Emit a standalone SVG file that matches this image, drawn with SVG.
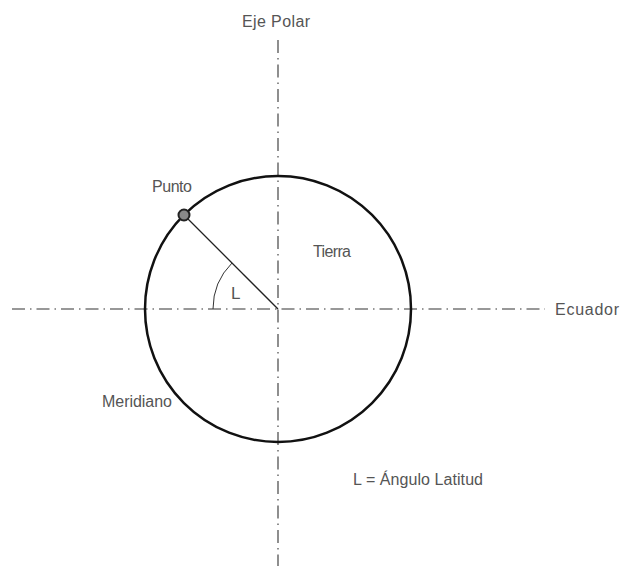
<svg xmlns="http://www.w3.org/2000/svg" width="620" height="573" viewBox="0 0 620 573">
<style>
.axis{stroke:#333;stroke-width:1.1;stroke-dasharray:13 5 1.5 5;fill:none}
.lbl{font-family:"Liberation Sans","Open Sans",sans-serif;font-size:16px;fill:#555}
</style>
<rect width="620" height="573" fill="#fff"/>
<g id="connectors">
<line class="axis" x1="12" y1="309" x2="545" y2="309"/>
<line class="axis" x1="278" y1="40" x2="278" y2="566"/>
<line x1="278" y1="309" x2="184" y2="215" stroke="#222" stroke-width="1.3"/>
<path d="M213,309 A65,65 0 0 1 232,263" fill="none" stroke="#333" stroke-width="1"/>
</g>
<g id="tierra">
<circle cx="278" cy="309" r="133" fill="none" stroke="#111" stroke-width="2.5"/>
<text class="lbl" x="313" y="257" textLength="38">Tierra</text>
</g>
<g id="punto">
<circle cx="184" cy="215" r="5.5" fill="#8a8a8a" stroke="#222" stroke-width="2"/>
<text class="lbl" x="152" y="192" textLength="40">Punto</text>
</g>
<g id="angulo">
<text class="lbl" x="231" y="299" style="font-size:17px">L</text>
</g>
<g id="eje-polar">
<text class="lbl" x="242" y="27" textLength="68">Eje Polar</text>
</g>
<g id="ecuador">
<text class="lbl" x="555" y="315" textLength="64">Ecuador</text>
</g>
<g id="meridiano">
<text class="lbl" x="102" y="407" textLength="70">Meridiano</text>
</g>
<g id="leyenda">
<text class="lbl" x="353" y="485" textLength="130">L = Ángulo Latitud</text>
</g>
</svg>
